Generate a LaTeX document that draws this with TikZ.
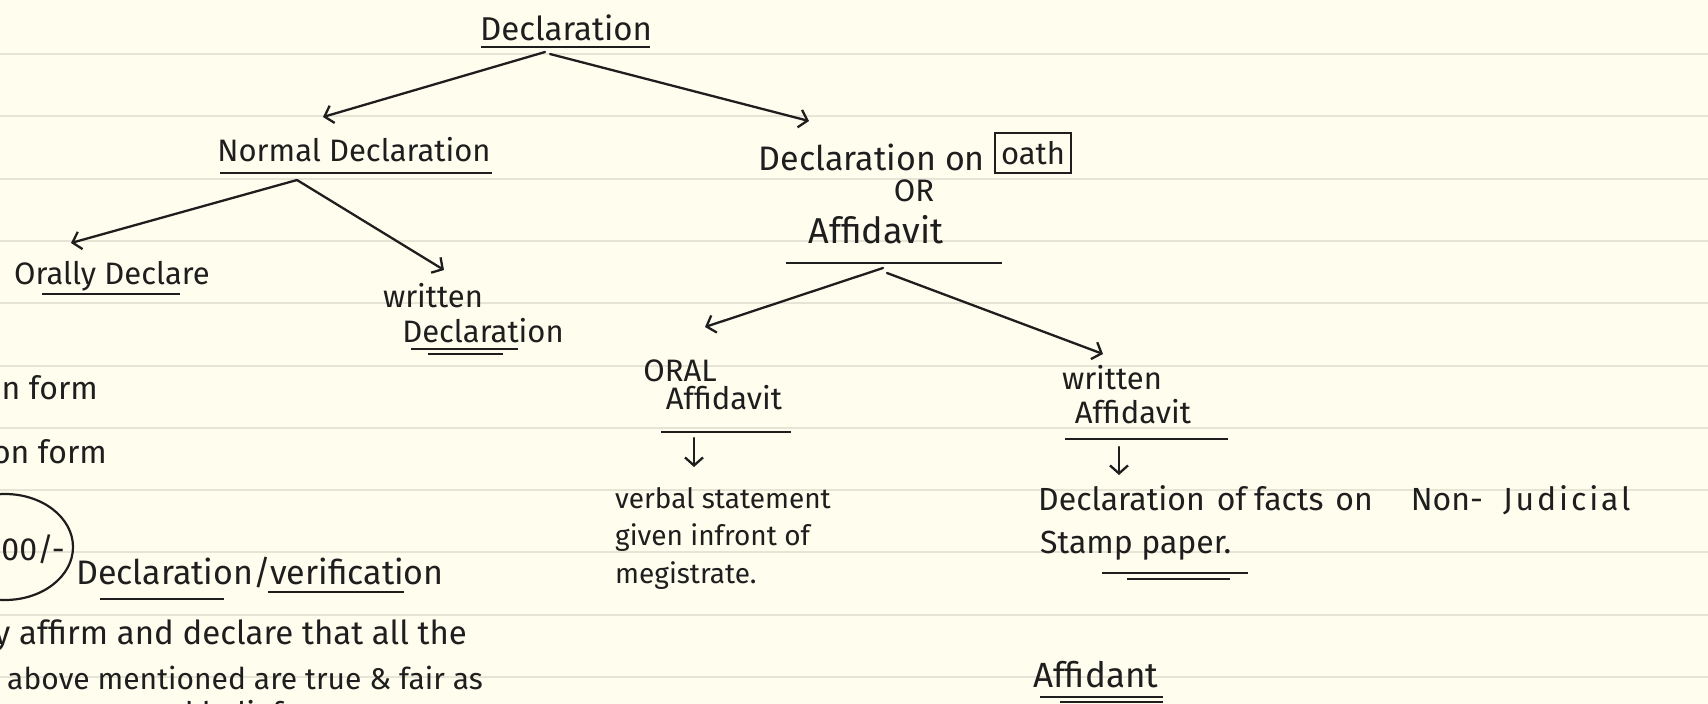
\documentclass[tikz,border=0pt]{standalone}
\usepackage{fontspec}
\setmainfont{Fira Sans}
\usetikzlibrary{arrows.meta,calc}
\definecolor{paper}{HTML}{FFFDEE}
\definecolor{ruling}{HTML}{E6E4D4}
\definecolor{ink}{HTML}{1E1E1E}

\begin{document}
\begin{tikzpicture}[x=1pt,y=-1pt,
  hw/.style={font=\fontsize{#1}{#1}\selectfont, text=ink, inner sep=0pt},
  hw/.default=31,
  arr/.style={draw=ink, line width=2.3pt, line cap=round,
    -{Straight Barb[length=8pt,width=18pt,line width=2.3pt]}},
  uline/.style={draw=ink, line width=2.6pt},
]
\useasboundingbox (0,0) rectangle (1708,704);
\clip (0,0) rectangle (1708,704);

% ruled notebook page
\fill[paper] (0,0) rectangle (1708,704);
\foreach \k in {0,...,10}
  \draw[ruling, line width=2pt] (0,{54+62.3*\k}) -- (1708,{54+62.3*\k});

% ---- root ----
\node[hw=33] (decl) at (566,28) {Declaration};
\draw[uline] (481,47) -- (650,47);

% ---- left branch ----
\node[hw] (normal) at (354,150) {Normal Declaration};
\draw[uline] (220,173) -- (492,173);

\node[hw] (orally) at (112,276) {Orally Declare};
\draw[uline] (42,294) -- (180,294);

\node[hw] (written) at (433,296) {written};
\node[hw] (wdecl) at (483,331) {Declaration};
\draw[uline] (411,349) -- (518,349);
\draw[uline] (428,354) -- (503,354);

% notes on the left margin
\node[hw=32, anchor=east] (nform) at (98,388) {n form};
\node[hw=32, anchor=east] (onform) at (107,452) {on form};
\draw[ink, line width=2.2pt] (5,547) ellipse [x radius=68pt, y radius=53pt];
\node[hw=32, anchor=east] (fee) at (65,549) {500/-};
\node[hw=34, anchor=west] (dv) at (76,573) {Declaration/verification};
\draw[uline] (100,599) -- (224,599);
\draw[uline] (268,592) -- (404,592);
\node[hw=33, anchor=west] (aff1) at (-6,636) {y affirm and declare that all the};
\node[hw=30, anchor=west] (aff2) at (7,678) {above mentioned are true \& fair as};
\node[hw=31, anchor=west] (aff3) at (140,713) {and belief};

% ---- right branch ----
\node[hw=34, anchor=east] (declon) at (985,157) {Declaration on};
\node[hw, draw=ink, line width=2.2pt, minimum width=76pt, minimum height=40pt]
  (oathbox) at (1033,153) {oath};
\node[hw] (or) at (914,191) {OR};
\node[hw=36] (affid) at (876,230) {Affidavit};
\draw[uline] (786,263) -- (1002,263);

\node[hw] (oral) at (680,371) {ORAL};
\node[hw] (oaff) at (724,398) {Affidavit};
\draw[uline] (661,432) -- (791,432);
\node[hw=28, anchor=west] (verbal) at (615,498) {verbal statement};
\node[hw=28, anchor=west] (given) at (615,538) {given infront of};
\node[hw=28, anchor=west] (megi) at (615,576) {megistrate.};

\node[hw] (wr2) at (1112,378) {written};
\node[hw] (waff) at (1133,412) {Affidavit};
\draw[uline] (1065,439) -- (1228,439);
\node[hw=32, anchor=west] (facts) at (1038,500)
  {Declaration\hspace{12pt}of\hspace{8pt}facts\hspace{12pt}on\hspace{38pt}Non-\hspace{20pt}{\addfontfeatures{LetterSpace=9}Judicial}};
\node[hw=32, anchor=west] (stamp) at (1040,546) {Stamp paper.};
\draw[uline] (1102,573) -- (1248,573);
\draw[uline] (1127,579) -- (1230,579);

\node[hw=35, anchor=west] (affdt) at (1033,675) {Affidant};
\draw[uline] (1040,697) -- (1163,697);
\draw[uline] (1060,702) -- (1163,702);

% ---- connectors ----
\draw[arr] ($(decl.center)+(-21,24)$) -- ($(normal.center)+(-31,-33)$);
\draw[arr] ($(decl.center)+(-16,26)$) -- ($(declon.east)+(-176,-36)$);
\draw[arr] ($(normal.center)+(-57,30)$) -- ($(orally.center)+(-41,-33)$);
\draw[arr] ($(normal.center)+(-57,30)$) -- ($(written.center)+(11,-26)$);
\draw[arr] ($(affid.center)+(7,38)$) -- ($(oral.center)+(25,-44)$);
\draw[arr] ($(affid.center)+(11,43)$) -- ($(wr2.center)+(-9,-24)$);
\draw[arr] ($(oaff.center)+(-30,40)$) -- ($(verbal.west)+(79,-31)$);
\draw[arr] ($(waff.center)+(-14,35)$) -- ($(facts.west)+(81,-25)$);
\end{tikzpicture}
\end{document}
